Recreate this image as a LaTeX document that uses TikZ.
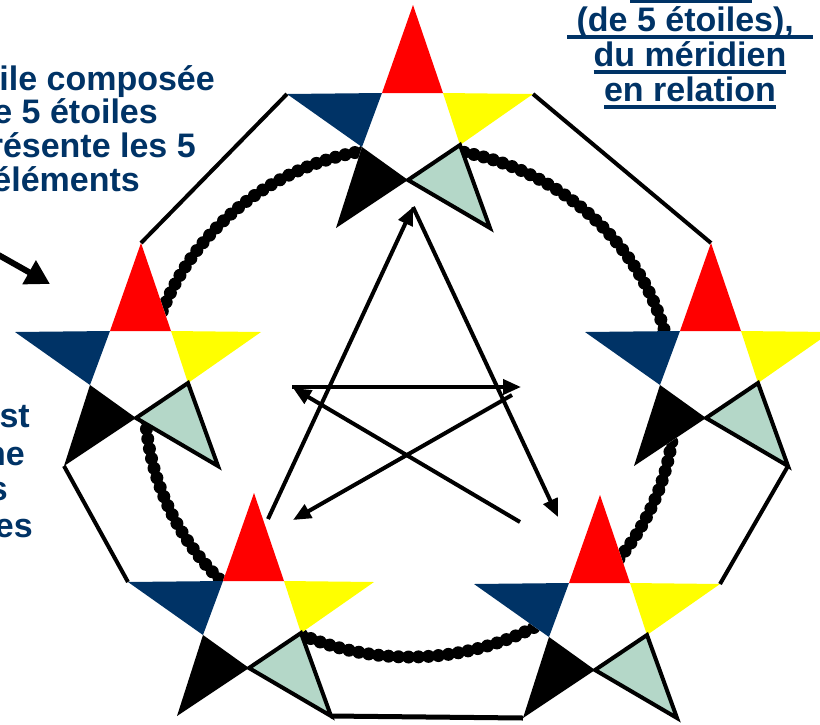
\documentclass[tikz,border=0pt]{standalone}
\usepackage{fontspec}
\setmainfont{Liberation Sans}
\usepackage{xcolor}
\definecolor{bleunuit}{RGB}{0,51,102}
\definecolor{rougevif}{RGB}{255,0,0}
\definecolor{jaunevif}{RGB}{255,255,0}
\definecolor{vertpale}{RGB}{180,215,200}
\usetikzlibrary{arrows.meta}

\newsavebox\boitesoul
\newcommand\souligne[1]{\sbox\boitesoul{#1}%
  \rlap{\rule[-7.5pt]{\wd\boitesoul}{3.5pt}}\usebox\boitesoul}

\begin{document}
\begin{tikzpicture}[
    x=1pt, y=-1pt,
    corde/.style={draw=black, line width=8pt},
    perle/.style={draw=black, line width=13pt, dash pattern=on 0pt off 10pt,
                  line cap=round},
    cote/.style={draw=black, line width=4pt},
    fleche/.style={draw=black, line width=4pt,
                   -{Triangle[length=18pt, width=15pt]}},
    texte/.style={font=\bfseries\fontsize{34}{36}\selectfont, text=bleunuit,
                  inner sep=0pt},
    etoile/.pic={
        \coordinate (-rouge) at (0,0);
        \coordinate (-i1) at (-31,88);
        \coordinate (-i5) at (30,88);
        \coordinate (-bleu) at (-126,89);
        \coordinate (-jaune) at (120,89);
        \coordinate (-i2) at (-51,142);
        \coordinate (-i4) at (47,140);
        \coordinate (-i3) at (-5,175);
        \coordinate (-noir) at (-77,223);
        \coordinate (-vert) at (77,223);
        \fill[white] (-rouge) -- (-i5) -- (-jaune) -- (-i4) -- (-vert) -- (-i3)
            -- (-noir) -- (-i2) -- (-bleu) -- (-i1) -- cycle;
        \fill[rougevif] (-rouge) -- (-i1) -- (-i5) -- cycle;
        \fill[bleunuit] (-bleu) -- (-i1) -- (-i2) -- cycle;
        \fill[jaunevif] (-jaune) -- (-i5) -- (-i4) -- cycle;
        \fill[black] (-noir) -- (-i2) -- (-i3) -- cycle;
        \filldraw[fill=vertpale, draw=black, line width=4pt, line join=miter]
            (-vert) -- (-i3) -- (-i4) -- cycle;
    }
]
\useasboundingbox (0,0) rectangle (820,724);
\clip (0,0) rectangle (820,724);
\fill[white] (0,0) rectangle (820,724);

% le cercle en chapelet
\draw[corde] (410,402) ellipse [x radius=265, y radius=255];
\draw[perle] (410,402) ellipse [x radius=265, y radius=255];

% les 5 etoiles
\pic (nord) at (413,5) {etoile};
\pic (ouest) at (141,243) {etoile};
\pic (est) at (711,243) {etoile};
\pic (sudouest) at (254,493) {etoile};
\pic (sudest) at (600,495) {etoile};

% le contour
\draw[cote] (nord-bleu) -- (ouest-rouge);
\draw[cote] (nord-jaune) -- (est-rouge);
\draw[cote] (ouest-noir) -- (sudouest-bleu);
\draw[cote, line width=5pt] (sudouest-vert) -- (sudest-noir);
\draw[cote] (sudest-jaune) -- (est-vert);

% les fleches du centre
\coordinate (p1) at (268,519);
\coordinate (p2) at (413,207);
\coordinate (p3) at (558,517);
\coordinate (h1) at (292,387);
\coordinate (h2) at (521,387);
\coordinate (d1) at (512,395);
\coordinate (d2) at (293,520);
\coordinate (d3) at (520,522);
\coordinate (d4) at (293,388);
\draw[fleche] (p1) -- (p2);
\draw[fleche] (p2) -- (p3);
\draw[fleche] (h1) -- (h2);
\draw[fleche] (d1) -- (d2);
\draw[fleche] (d3) -- (d4);

% la fleche de gauche
\coordinate (g0) at (-5,253);
\coordinate (g1) at (50,284);
\draw[line width=6pt, -{Triangle[length=24pt, width=26pt]}] (g0) -- (g1);

% les textes
\foreach \t/\x/\y [count=\i] in {ile composée/215/90, e 5 étoiles/158/123,
        résente les 5/196/157, éléments/140/191}
    \node[texte, anchor=base east] (haut\i) at (\x,\y) {\t};
\foreach \t/\x/\y [count=\i] in {st/30/427, ne/25/465, s/8/500, es/33/537}
    \node[texte, anchor=base east] (bas\i) at (\x,\y) {\t};
\fill[bleunuit] (630,-2) rectangle (752,2.5);
\node[texte, anchor=base] (droite1) at (690,31) {\souligne{\ (de 5 étoiles),\ \ }};
\node[texte, anchor=base] (droite2) at (690,66) {\souligne{du méridien}};
\node[texte, anchor=base] (droite3) at (690,101) {\souligne{en relation}};
\end{tikzpicture}
\end{document}
